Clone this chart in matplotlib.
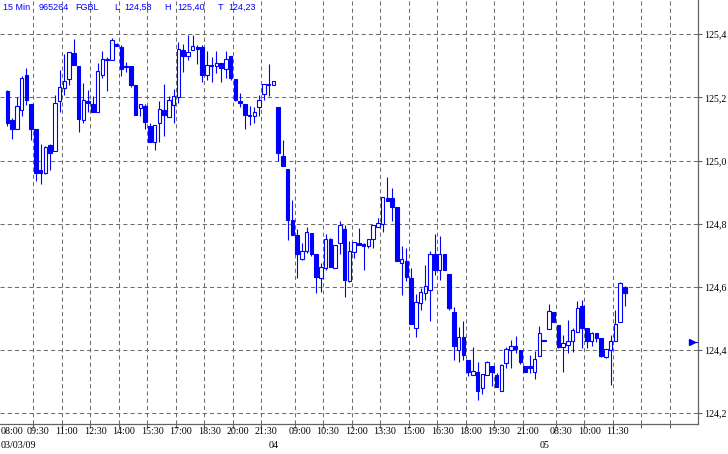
import matplotlib
matplotlib.use('Agg')
import matplotlib.pyplot as plt
from matplotlib.transforms import blended_transform_factory

plt.rcParams['lines.scale_dashes'] = False

# === 15 Min FGBL K线数据 (开 / 高 / 低 / 收) ===
opens = [125.221, 125.129, 125.099, 125.160, 125.271, 125.180, 125.100, 124.970, 124.959, 125.049,
         125.030, 125.189, 125.228, 125.258, 125.340, 125.300, 125.128, 125.189, 125.180, 125.152,
         125.270, 125.317, 125.318, 125.369, 125.359, 125.300, 125.300, 125.240, 125.165, 125.174,
         125.110, 125.057, 125.118, 125.160, 125.139, 125.177, 125.200, 125.350, 125.330, 125.349,
         125.359, 125.359, 125.270, 125.302, 125.300, 125.309, 125.290, 125.331, 125.257, 125.189,
         125.178, 125.145, 125.140, 125.169, 125.210, 125.240, 125.238,
         125.170, 125.014, 124.973, 124.811, 124.763, 124.689, 124.712, 124.772, 124.703, 124.629,
         124.659, 124.750, 124.660, 124.740, 124.782, 124.618, 124.710, 124.740, 124.735, 124.729,
         124.750, 124.789, 124.800, 124.880, 124.880, 124.853, 124.676, 124.682, 124.629, 124.470,
         124.549, 124.581, 124.591, 124.703, 124.652, 124.703, 124.642, 124.521, 124.401, 124.440,
         124.369, 124.320, 124.332, 124.280, 124.321, 124.351, 124.322, 124.269, 124.359, 124.401,
         124.412, 124.401, 124.351, 124.351, 124.330, 124.380, 124.433,
         124.468, 124.521, 124.479, 124.409, 124.417, 124.429, 124.458, 124.540, 124.471, 124.430,
         124.453, 124.437, 124.379, 124.400, 124.430, 124.488, 124.599]
highs = [125.224, 125.134, 125.200, 125.268, 125.293, 125.180, 125.100, 125.052, 125.045, 125.053,
         125.207, 125.287, 125.338, 125.343, 125.385, 125.300, 125.246, 125.223, 125.203, 125.308,
         125.347, 125.327, 125.388, 125.371, 125.364, 125.313, 125.300, 125.240, 125.178, 125.180,
         125.120, 125.112, 125.187, 125.243, 125.203, 125.227, 125.376, 125.368, 125.398, 125.398,
         125.364, 125.364, 125.345, 125.329, 125.345, 125.309, 125.348, 125.331, 125.257, 125.213,
         125.178, 125.174, 125.168, 125.207, 125.242, 125.307, 125.251,
         125.170, 125.065, 124.973, 124.874, 124.784, 124.738, 124.790, 124.772, 124.703, 124.676,
         124.766, 124.756, 124.734, 124.809, 124.795, 124.745, 124.743, 124.785, 124.740, 124.752,
         124.795, 124.819, 124.884, 124.948, 124.914, 124.853, 124.729, 124.724, 124.660, 124.579,
         124.595, 124.668, 124.715, 124.766, 124.761, 124.703, 124.642, 124.536, 124.472, 124.493,
         124.369, 124.409, 124.361, 124.325, 124.366, 124.351, 124.327, 124.357, 124.409, 124.433,
         124.446, 124.401, 124.351, 124.385, 124.398, 124.477, 124.433,
         124.546, 124.521, 124.479, 124.448, 124.495, 124.469, 124.556, 124.559, 124.471, 124.458,
         124.453, 124.437, 124.402, 124.448, 124.527, 124.615, 124.603]
lows = [125.108, 125.068, 125.099, 125.142, 125.176, 125.065, 124.936, 124.926, 124.957, 124.970,
        125.030, 125.152, 125.208, 125.240, 125.301, 125.089, 125.120, 125.155, 125.152, 125.152,
        125.260, 125.221, 125.318, 125.361, 125.266, 125.280, 125.234, 125.143, 125.140, 125.100,
        125.058, 125.032, 125.060, 125.076, 125.139, 125.120, 125.182, 125.279, 125.318, 125.349,
        125.307, 125.247, 125.255, 125.250, 125.276, 125.247, 125.261, 125.256, 125.187, 125.168,
        125.099, 125.111, 125.118, 125.142, 125.190, 125.205, 125.238,
        124.997, 124.983, 124.748, 124.764, 124.629, 124.684, 124.708, 124.697, 124.581, 124.584,
        124.653, 124.663, 124.660, 124.703, 124.568, 124.615, 124.690, 124.733, 124.653, 124.722,
        124.722, 124.789, 124.775, 124.873, 124.809, 124.682, 124.574, 124.618, 124.483, 124.441,
        124.528, 124.560, 124.491, 124.639, 124.621, 124.655, 124.528, 124.370, 124.362, 124.369,
        124.317, 124.320, 124.242, 124.262, 124.321, 124.285, 124.282, 124.269, 124.343, 124.343,
        124.391, 124.357, 124.332, 124.327, 124.309, 124.380, 124.428,
        124.468, 124.490, 124.405, 124.331, 124.392, 124.395, 124.458, 124.405, 124.405, 124.413,
        124.427, 124.377, 124.374, 124.289, 124.430, 124.488, 124.541]
closes = [125.120, 125.100, 125.172, 125.261, 125.190, 125.101, 124.962, 124.962, 125.042, 125.023,
          125.181, 125.232, 125.251, 125.343, 125.301, 125.130, 125.191, 125.182, 125.152, 125.283,
          125.321, 125.321, 125.382, 125.361, 125.291, 125.297, 125.240, 125.143, 125.178, 125.123,
          125.060, 125.112, 125.163, 125.144, 125.191, 125.204, 125.353, 125.332, 125.343, 125.362,
          125.352, 125.272, 125.303, 125.299, 125.310, 125.292, 125.320, 125.261, 125.191, 125.182,
          125.143, 125.142, 125.153, 125.191, 125.242, 125.243, 125.251,
          125.024, 124.983, 124.812, 124.764, 124.704, 124.713, 124.775, 124.703, 124.631, 124.664,
          124.753, 124.663, 124.734, 124.795, 124.621, 124.715, 124.743, 124.733, 124.729, 124.752,
          124.795, 124.803, 124.884, 124.873, 124.854, 124.682, 124.687, 124.631, 124.483, 124.553,
          124.584, 124.603, 124.705, 124.655, 124.705, 124.655, 124.532, 124.412, 124.441, 124.385,
          124.332, 124.335, 124.272, 124.325, 124.362, 124.332, 124.282, 124.354, 124.404, 124.414,
          124.403, 124.361, 124.332, 124.343, 124.372, 124.454, 124.428,
          124.523, 124.490, 124.411, 124.421, 124.430, 124.464, 124.532, 124.471, 124.430, 124.455,
          124.439, 124.381, 124.402, 124.430, 124.483, 124.612, 124.582]

# 时间轴标签 (K线序号)
time_labels = ['08:00', '09:30', '11:00', '12:30', '14:00', '15:30', '17:00', '18:30', '20:00', '21:30',
               '09:00', '10:30', '12:00', '13:30', '15:00', '16:30', '18:00', '19:30', '21:00',
               '08:30', '10:00', '11:30']
time_bars = [0, 6, 12, 18, 24, 30, 36, 42, 48, 54,
             61, 67, 73, 79, 85, 91, 97, 103, 109,
             116, 122, 128]
grid_bars = time_bars[1:] + [134, 140]
date_labels = ['03/03/09', '04', '05']
date_bars = [0, 57, 114]
price_ticks = [124.2, 124.4, 124.6, 124.8, 125.0, 125.2, 125.4]
header_items = ['15 Min', '965264', 'FGBL', 'L', '124,58', 'H', '125,40', 'T', '124,23']
last_price = 124.427

W, H = 728, 454
blue = '#0000FF'
grid_color = '#6e6e6e'
serif = ['Liberation Serif', 'DejaVu Serif']

fig = plt.figure(figsize=(W / 100, H / 100), dpi=100)
ax = fig.add_axes([0, 1 - 424 / H, 697.7 / W, 424 / H])
ax.set_xlim(-1.54, 145.35)
ax.set_ylim(124.166, 125.508)

# === 网格 ===
for y in price_ticks:
    ax.axhline(y, color=grid_color, lw=0.75, dashes=(3.0, 2.2), zorder=0)
for b in grid_bars:
    ax.axvline(b - 0.53, color=grid_color, lw=0.75, dashes=(3.0, 2.2), zorder=0)

# === K线 ===
for i in range(len(opens)):
    o, h, l, c = opens[i], highs[i], lows[i], closes[i]
    ax.vlines(i, l, h, color=blue, lw=0.8, zorder=2)
    if c >= o:
        ax.bar(i, c - o, bottom=o, width=0.72, facecolor='white', edgecolor=blue, lw=0.8, zorder=3)
    else:
        ax.bar(i, o - c, bottom=c, width=0.72, facecolor=blue, edgecolor=blue, lw=0.8, zorder=3)

# 最新价标记
ax.plot([144.2], [last_price], marker='>', color=blue, markersize=4, clip_on=False, zorder=4)
ax.plot([144.2, 145.3], [last_price, last_price], color=blue, lw=0.8, clip_on=False, zorder=4)

# === 坐标轴 ===
for side in ['top', 'left']:
    ax.spines[side].set_visible(False)
for side in ['right', 'bottom']:
    ax.spines[side].set_color('#646464')
    ax.spines[side].set_linewidth(0.9)

ax.yaxis.tick_right()
ax.set_yticks(price_ticks)
ax.set_yticklabels(['{:.1f}'.format(v).replace('.', ',') for v in price_ticks],
                   fontfamily=serif, fontsize=7.2)
ax.tick_params(axis='y', length=3, width=0.8, color='#646464', pad=1.5)
ax.set_xticks([b - 0.53 for b in grid_bars])
ax.set_xticklabels([])
ax.tick_params(axis='x', length=3, width=0.8, color='#646464')

trans = blended_transform_factory(ax.transData, fig.transFigure)
for lab, b in zip(time_labels, time_bars):
    if b == 0:
        # 第一个标签贴左边
        fig.text(0.5 / W, 1 - 432 / H, lab, ha='left', va='center', fontfamily=serif, fontsize=7.2)
    else:
        ax.text(b + 0.52, 1 - 432 / H, lab, transform=trans, ha='center', va='center',
                fontfamily=serif, fontsize=7.2)
for lab, b in zip(date_labels, date_bars):
    if b == 0:
        fig.text(0.5 / W, 1 - 445.5 / H, lab, ha='left', va='center', fontfamily=serif, fontsize=7.2)
    else:
        ax.text(b - 0.9, 1 - 445.5 / H, lab, transform=trans, ha='center', va='center',
                fontfamily=serif, fontsize=7.2)

# 标题信息
header_x = [3, 39, 75, 114, 124, 164, 177, 218, 228]
for txt, px in zip(header_items, header_x):
    fig.text(px / W, 1 - 9.5 / H, txt, ha='left', va='baseline', color=blue,
             fontfamily=['Liberation Sans', 'DejaVu Sans'], fontsize=6.5)

fig.savefig('out.png', dpi=100)
